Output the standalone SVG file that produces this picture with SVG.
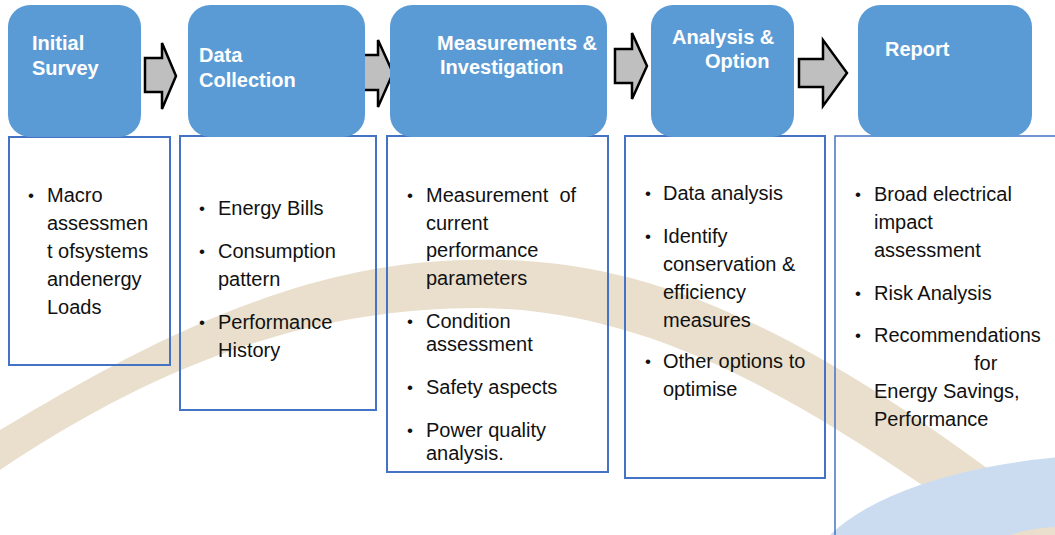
<svg xmlns="http://www.w3.org/2000/svg" width="1055" height="535" viewBox="0 0 1055 535">
<style>
.hdr{fill:#5b9bd5;}
.htx{font-family:"Liberation Sans",Arial,sans-serif;font-weight:bold;font-size:20px;fill:#ffffff;}
.box{fill:none;stroke:#4472c4;stroke-width:2;}
.tx{font-family:"Liberation Sans",Arial,sans-serif;font-size:20px;fill:#111111;white-space:pre;}
.bl{font-family:"Liberation Sans",Arial,sans-serif;font-size:17px;fill:#111111;}
.arr{fill:#bfbfbf;stroke:#000000;stroke-width:2.5;stroke-linejoin:miter;}
</style>
<rect width="1055" height="535" fill="#ffffff"/>
<g id="background">
<path d="M0,430 C150,340 300,262 470,260 C640,255 800,320 1055,520 L1055,540 L1000,540 C800,395 650,310 480,308 C300,308 150,370 0,470 Z" fill="#e9dfcc"/>
<path d="M830,535 A320,133 0 0 1 1055,457.5 L1055,527 Q1030,528 1010,535 Z" fill="#cbdcf0"/>
</g>
<g id="connectors">
<polygon class="arr" points="145,58 162,58 162,43 176,76 162,109 162,92 145,92"/>
<polygon class="arr" points="362,55 378,55 378,40 393,73 378,107 378,90 362,90"/>
<polygon class="arr" points="615,49 632,49 632,33 647,66 632,99 632,83 615,83"/>
<polygon class="arr" points="799,59 823,59 823,40 847,73 823,106 823,87 799,87"/>
</g>
<g id="node-initial-survey">
<rect class="box" x="9" y="137" width="161" height="228"/>
<rect class="hdr" x="8" y="5" width="133" height="132" rx="22"/>
<text class="htx" x="32" y="50">Initial</text>
<text class="htx" x="32" y="75">Survey</text>
<text class="bl" x="28" y="201">•</text>
<text class="tx" x="47" y="202">Macro</text>
<text class="tx" x="47" y="230">assessmen</text>
<text class="tx" x="47" y="258">t ofsystems</text>
<text class="tx" x="47" y="286">andenergy</text>
<text class="tx" x="47" y="314">Loads</text>
</g>
<g id="node-data-collection">
<rect class="box" x="180" y="136" width="196" height="274"/>
<rect class="hdr" x="188" y="5" width="177" height="132" rx="22"/>
<text class="htx" x="199" y="62">Data</text>
<text class="htx" x="199" y="87">Collection</text>
<text class="bl" x="199" y="214">•</text>
<text class="tx" x="218" y="215">Energy Bills</text>
<text class="bl" x="199" y="257">•</text>
<text class="tx" x="218" y="258">Consumption</text>
<text class="tx" x="218" y="286">pattern</text>
<text class="bl" x="199" y="328">•</text>
<text class="tx" x="218" y="329">Performance</text>
<text class="tx" x="218" y="357">History</text>
</g>
<g id="node-measurements">
<rect class="box" x="387" y="136" width="221" height="336"/>
<rect class="hdr" x="390" y="5" width="217" height="132" rx="22"/>
<text class="htx" x="437" y="50">Measurements &amp;</text>
<text class="htx" x="440" y="74">Investigation</text>
<text class="bl" x="407" y="201">•</text>
<text class="tx" x="426" y="202">Measurement  of</text>
<text class="tx" x="426" y="230">current</text>
<text class="tx" x="426" y="257">performance</text>
<text class="tx" x="426" y="285">parameters</text>
<text class="bl" x="407" y="327">•</text>
<text class="tx" x="426" y="328">Condition</text>
<text class="tx" x="426" y="351">assessment</text>
<text class="bl" x="407" y="393">•</text>
<text class="tx" x="426" y="394">Safety aspects</text>
<text class="bl" x="407" y="436">•</text>
<text class="tx" x="426" y="437">Power quality</text>
<text class="tx" x="426" y="460">analysis.</text>
</g>
<g id="node-analysis">
<rect class="box" x="625" y="136" width="200" height="342"/>
<rect class="hdr" x="651" y="5" width="143" height="132" rx="22"/>
<text class="htx" x="672" y="44">Analysis &amp;</text>
<text class="htx" x="705" y="68">Option</text>
<text class="bl" x="645" y="199">•</text>
<text class="tx" x="663" y="200">Data analysis</text>
<text class="bl" x="645" y="242">•</text>
<text class="tx" x="663" y="243">Identify</text>
<text class="tx" x="663" y="271">conservation &amp;</text>
<text class="tx" x="663" y="299">efficiency</text>
<text class="tx" x="663" y="327">measures</text>
<text class="bl" x="645" y="367">•</text>
<text class="tx" x="663" y="368">Other options to</text>
<text class="tx" x="663" y="396">optimise</text>
</g>
<g id="node-report">
<path class="box" d="M1056,136 L835,136 L835,536" style="stroke-width:1.5"/>
<rect class="hdr" x="858" y="5" width="174" height="132" rx="22"/>
<text class="htx" x="885" y="56">Report</text>
<text class="bl" x="855" y="200">•</text>
<text class="tx" x="874" y="201">Broad electrical</text>
<text class="tx" x="874" y="229">impact</text>
<text class="tx" x="874" y="257">assessment</text>
<text class="bl" x="855" y="299">•</text>
<text class="tx" x="874" y="300">Risk Analysis</text>
<text class="bl" x="855" y="341">•</text>
<text class="tx" x="874" y="342">Recommendations</text>
<text class="tx" x="974" y="370">for</text>
<text class="tx" x="874" y="398">Energy Savings,</text>
<text class="tx" x="874" y="426">Performance</text>
</g>
</svg>
